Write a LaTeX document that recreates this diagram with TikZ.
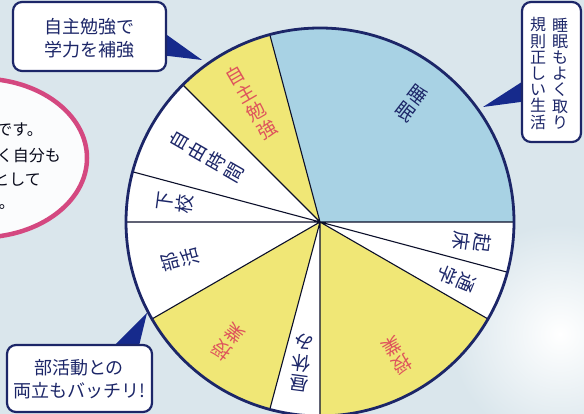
\documentclass[tikz,border=0pt]{standalone}
\usepackage{fontspec}
\setmainfont{Noto Sans CJK JP}
\definecolor{bgblue}{RGB}{218,230,236}
\definecolor{navy}{RGB}{28,38,104}
\definecolor{navyfill}{RGB}{22,42,140}
\definecolor{sleepblue}{RGB}{168,210,228}
\definecolor{lessony}{RGB}{240,231,118}
\definecolor{lessonred}{RGB}{222,84,92}
\definecolor{memopink}{RGB}{212,72,128}
\tikzset{
	spoke/.style={draw=black!60!navy, line width=1.1pt},
	lab/.style={text=navy, align=center, inner sep=0pt, font=\fontsize{19}{21}\selectfont},
	labred/.style={lab, text=lessonred},
	bubble/.style={draw=navy, fill=white, line width=2.2pt, rounded corners=9pt},
	say/.style={text=navy, align=center, inner sep=0pt, font=\fontsize{18}{23}\selectfont},
	tate/.style={text=navy, align=center, inner sep=0pt, font=\fontsize{16}{16.2}\selectfont},
	memo/.style={text=black!75!navy, inner sep=0pt, font=\fontsize{16}{16}\selectfont}
}
\begin{document}
\begin{tikzpicture}[x=1pt, y=1pt]
	\useasboundingbox (0,0) rectangle (584,414);
	\clip (0,0) rectangle (584,414);
	\fill[bgblue] (0,0) rectangle (584,414);
	\shade[inner color=white, outer color=bgblue] (560,80) circle (110);

	\draw[memopink, line width=4.5pt, fill=white!90!bgblue] (-20,256) ellipse [x radius=107, y radius=79.5];
	\node[memo, anchor=east] (m1) at (43,284) {です。};
	\node[memo, anchor=east] (m2) at (61,259) {く自分も};
	\node[memo, anchor=east] (m3) at (41,234) {として};
	\node[memo, anchor=east] (m4) at (15,207) {。};

	\begin{scope}[shift={(320,192)}]
		\coordinate (c) at (0,0);
		\fill[white] (c) circle (194);
		\fill[sleepblue] (c) -- (0:194) arc (0:105:194) -- cycle;
		\fill[lessony] (c) -- (-90:194) arc (-90:-30:194) -- cycle;
		\fill[lessony] (c) -- (-150:194) arc (-150:-105:194) -- cycle;
		\fill[lessony] (c) -- (-255:194) arc (-255:-225:194) -- cycle;
		\draw[spoke] (c) -- (105:194) (c) -- (0:194) (c) -- (-15:194) (c) -- (-30:194)
			(c) -- (-90:194) (c) -- (-105:194) (c) -- (-150:194) (c) -- (-180:194)
			(c) -- (-195:194) (c) -- (-225:194);
		\draw[navy, line width=2.8pt] (c) circle (194);
		\node[lab, rotate=-37.5] (sleep) at (52.5:150) {睡\\眠};
		\node[lab, rotate=-97.5] (wake) at (-7.5:153) {起\\床};
		\node[lab, rotate=-112.5] (commute) at (-22.5:148) {通\\学};
		\node[labred, rotate=-150] (am) at (-60:154) {授\\業};
		\node[lab, rotate=-187.5] (lunch) at (-97.5:142) {昼\\休\\み};
		\node[labred, rotate=-217.5] (pm) at (-127.5:151) {授\\業};
		\node[lab, rotate=-255] (club) at (-165:145) {部\\活};
		\node[lab, rotate=-277.5] (home) at (-187.5:146) {下\\校};
		\node[lab, rotate=-300] (free) at (-210:131) {自\\由\\時\\間};
		\node[labred, rotate=-330] (study) at (-240:138) {自\\主\\勉\\強};
	\end{scope}

	\fill[navyfill] (160,384) -- (202,354) -- (160,359) -- cycle;
	\draw[bubble] (13,343) rectangle (166,412);
	\node[say] (tl) at (90,375.5) {自主勉強で\\学力を補強};

	\fill[navyfill] (528,336) -- (483,307) -- (528,313) -- cycle;
	\draw[bubble] (522,272) rectangle (581,412);
	\node[tate] (tr1) at (560,340.5) {睡\\眠\\も\\よ\\く\\取\\り};
	\node[tate] (tr2) at (538,340.5) {規\\則\\正\\し\\い\\生\\活};

	\fill[navyfill] (110,64) -- (147,101) -- (138,64) -- cycle;
	\draw[bubble] (7,2) rectangle (152,69);
	\node[say] (bl) at (79,35) {部活動との\\両立もバッチリ!};
\end{tikzpicture}
\end{document}
